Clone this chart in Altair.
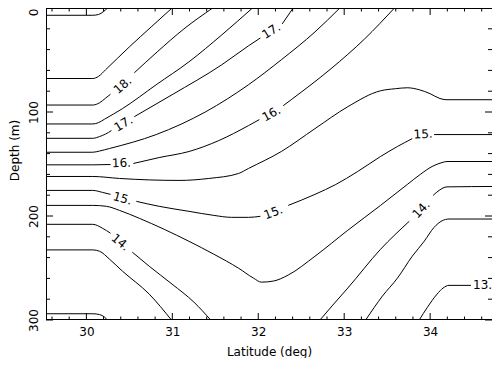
import altair as alt
import pandas as pd

# ---- axis ticks / labels ----
x_labels = [30, 31, 32, 33, 34]
x_minor = [29.6, 29.8, 30.2, 30.4, 30.6, 30.8, 31.2, 31.4, 31.6, 31.8, 32.2, 32.4,
           32.6, 32.8, 33.2, 33.4, 33.6, 33.8, 34.2, 34.4, 34.6]
y_labels = [0, 100, 200, 300]
y_minor = [20, 40, 60, 80, 120, 140, 160, 180, 220, 240, 260, 280]

# ---- contour lines (lat, depth), split where labels interrupt them ----
c190 = [[(29.53, 7.0), (30.074, 7.0), (30.142, 6.2), (30.2, 3.4), (30.246, 0.0)]]
c185 = [[(29.53, 67.8), (30.074, 67.8), (30.142, 65.7), (30.223, 59.4), (30.5, 37.4),
         (30.754, 18.2), (30.997, 0.0)]]
c180 = [[(29.53, 93.3), (30.074, 93.3), (30.154, 91.1), (30.223, 86.7), (30.281, 82.9)],
        [(30.558, 62.3), (30.824, 42.2), (31.135, 20.1), (31.47, 0.0)]]
c175 = [[(29.53, 111.5), (30.074, 111.5), (30.142, 110.2), (30.211, 106.9), (30.419, 96.8),
         (30.812, 73.8), (31.193, 51.8), (31.575, 25.9), (31.933, 0.0)]]
c170 = [[(29.53, 125.3), (30.074, 125.3), (30.154, 123.6), (30.223, 121.2), (30.292, 117.9)],
        [(30.558, 104.5), (30.997, 83.4), (31.575, 54.6), (31.886, 36.4), (32.025, 28.8)],
        [(32.279, 15.3), (32.406, 0.0)]]
c165 = [[(29.53, 138.7), (30.074, 138.7), (30.154, 137.5), (30.269, 135.1), (30.812, 121.7),
         (31.39, 99.7), (31.886, 73.8), (32.268, 49.8), (32.66, 23.0), (32.949, 0.0)]]
c160 = [[(29.53, 150.8), (30.074, 150.8), (30.281, 150.5)],
        [(30.547, 149.5), (30.847, 143.8), (31.193, 138.0), (31.54, 127.5), (31.886, 113.1),
         (32.013, 107.3)],
        [(32.291, 93.9), (32.383, 88.2), (32.845, 58.5), (33.238, 29.7), (33.585, 0.0)]]
c155 = [[(29.53, 162.0), (30.074, 162.0), (30.385, 163.9), (30.731, 165.3), (31.078, 165.8),
         (31.424, 163.9), (31.771, 159.1), (31.886, 154.3), (32.268, 138.0), (32.66, 116.0),
         (33.042, 94.9), (33.423, 79.6), (33.596, 77.6), (33.734, 76.7), (33.873, 78.6),
         (34.0, 82.4), (34.104, 86.7), (34.196, 88.2), (34.762, 88.2)]]
c150 = [[(29.53, 175.4), (30.074, 175.4), (30.188, 177.3), (30.281, 179.2)],
        [(30.581, 185.9), (30.847, 190.7), (31.193, 195.5), (31.482, 199.4), (31.69, 201.3),
         (31.886, 201.3), (32.025, 200.3)],
        [(32.349, 189.8), (32.66, 179.2), (32.902, 169.7), (33.157, 157.2), (33.423, 142.8),
         (33.619, 133.2), (33.792, 125.6)],
        [(34.046, 121.7), (34.762, 121.7)]]
c145 = [[(29.53, 189.8), (30.074, 189.8), (30.234, 190.7), (30.385, 194.6), (30.616, 202.2),
         (30.905, 212.8), (31.193, 224.3), (31.482, 236.7), (31.771, 250.2), (31.944, 259.7),
         (32.037, 263.6), (32.175, 262.6), (32.348, 256.8), (32.66, 238.7), (33.042, 213.7),
         (33.423, 189.8), (33.734, 169.7), (33.884, 160.1), (34.023, 152.4), (34.139, 148.6),
         (34.196, 147.6), (34.762, 147.6)]]
c140 = [[(29.53, 208.0), (30.074, 208.0), (30.188, 211.8), (30.281, 216.6)],
        [(30.535, 234.8), (30.731, 248.3), (30.997, 265.5), (31.251, 282.8), (31.447, 300.0)],
        [(32.718, 300.0), (32.868, 285.6), (33.042, 269.3), (33.423, 232.0), (33.757, 205.1)],
        [(34.035, 180.2), (34.104, 175.4), (34.196, 172.0), (34.762, 171.6)]]
c135 = [[(29.53, 232.6), (30.074, 232.6), (30.154, 233.9), (30.269, 241.5), (30.419, 253.0),
         (30.731, 275.1), (30.99, 300.0)],
        [(33.25, 300.0), (33.445, 277.0), (33.619, 259.8), (33.792, 238.7), (33.931, 224.3),
         (34.046, 210.9), (34.139, 204.6), (34.22, 202.9), (34.762, 202.9)]]
c130 = [[(29.53, 294.0), (30.074, 294.0), (30.154, 294.8), (30.211, 297.2), (30.246, 300.0)],
        [(33.873, 300.0), (33.965, 288.2), (34.081, 275.1), (34.15, 269.3), (34.22, 266.7),
         (34.475, 266.7)]]

levels = {"19.0": c190, "18.5": c185, "18.0": c180, "17.5": c175, "17.0": c170,
          "16.5": c165, "16.0": c160, "15.5": c155, "15.0": c150, "14.5": c145,
          "14.0": c140, "13.5": c135, "13.0": c130}

# ---- contour labels ----
label_text = ["18.", "17.", "17.", "16.", "16.", "15.", "15.", "15.", "14.", "14.", "13."]
label_lat = [30.420, 30.431, 32.152, 30.408, 32.152, 30.420, 32.175, 33.919, 30.396, 33.896, 34.5]
label_depth = [74.3, 111.2, 22.0, 149.0, 101.6, 183.1, 196.5, 121.2, 225.2, 193.6, 266.7]
label_angle = [319, 329, 328, 358, 331, 16, 339, 357, 40, 313, 0]
label_align = ["center"] * 10 + ["left"]

rows = []
for lev, segs in levels.items():
    for k, seg in enumerate(segs):
        for i, (la, de) in enumerate(seg):
            rows.append({"seg": f"{lev}-{k}", "i": i, "lat": la, "depth": de})
lines_df = pd.DataFrame(rows)
labels_df = pd.DataFrame({"t": label_text, "lat": label_lat, "depth": label_depth,
                          "a": label_angle, "al": label_align})

W, H = 446, 312
FONT = "DejaVu Sans"
xs = alt.Scale(domain=[29.53, 34.72], nice=False, zero=False)
ys = alt.Scale(domain=[0, 300], reverse=True, nice=False, zero=False)

x_axis = alt.Axis(values=x_labels, format="d", ticks=False, tickSize=0, domain=False,
                  grid=False, labelFont=FONT, labelFontSize=12, labelColor="black",
                  labelBaseline="alphabetic", labelPadding=15, labelFlush=False,
                  title="Latitude (deg)", titleFont=FONT, titleFontSize=12,
                  titleFontWeight="normal", titleColor="black",
                  titleBaseline="alphabetic", titleY=35.5)
y_axis = alt.Axis(values=y_labels, format="d", ticks=False, tickSize=0, domain=False,
                  grid=False, labelFont=FONT, labelFontSize=12, labelColor="black",
                  labelAngle=270,
                  labelAlign={"condition": {"test": "datum.value == 0", "value": "right"},
                              "value": "center"},
                  labelBaseline="alphabetic",
                  labelPadding=9, labelFlush=False,
                  title="Depth (m)", titleFont=FONT, titleFontSize=12,
                  titleFontWeight="normal", titleColor="black", titleAngle=270,
                  titleAlign="center", titleBaseline="alphabetic", titleX=-27.5, titleY=142)

X = alt.X("lat:Q", scale=xs, axis=x_axis)
Y = alt.Y("depth:Q", scale=ys, axis=y_axis)

lines = alt.Chart(lines_df).mark_line(color="black", strokeWidth=1, clip=True,
                                      interpolate="monotone").encode(
    x=X, y=Y, detail="seg:N", order="i:Q")

texts_c = alt.Chart(labels_df).transform_filter(alt.datum.al == "center").mark_text(
    font=FONT, fontSize=12, color="black", align="center", baseline="middle").encode(
    x=X, y=Y, text="t:N", angle=alt.Angle("a:Q", scale=None))
texts_l = alt.Chart(labels_df).transform_filter(alt.datum.al == "left").mark_text(
    font=FONT, fontSize=12, color="black", align="left", baseline="middle").encode(
    x=X, y=Y, text="t:N")

def xticks(vals, y0, y1):
    return alt.Chart(pd.DataFrame({"lat": vals})).mark_rule(color="black", strokeWidth=1).encode(
        x=X, y=alt.value(y0), y2=alt.value(y1))

def yticks(vals, x0, x1):
    return alt.Chart(pd.DataFrame({"depth": vals})).mark_rule(color="black", strokeWidth=1).encode(
        y=Y, x=alt.value(x0), x2=alt.value(x1))

ticks = [
    xticks(x_labels, H, H - 7), xticks(x_minor, H, H - 3.5),
    xticks(x_labels, 0, 7), xticks(x_minor, 0, 3.5),
    yticks(y_labels, 0, 7), yticks(y_minor, 0, 4),
    yticks(y_labels, W, W - 7), yticks(y_minor, W, W - 4),
]

frame_df = pd.DataFrame({"k": [0]})
frame = [
    alt.Chart(frame_df).mark_rule(color="black", strokeWidth=1).encode(
        x=alt.value(0), x2=alt.value(W), y=alt.value(0.5)),
    alt.Chart(frame_df).mark_rule(color="black", strokeWidth=1).encode(
        x=alt.value(0), x2=alt.value(W), y=alt.value(H - 0.5)),
    alt.Chart(frame_df).mark_rule(color="black", strokeWidth=1).encode(
        x=alt.value(0.5), y=alt.value(0), y2=alt.value(H)),
]

chart = alt.layer(lines, texts_c, texts_l, *ticks, *frame).properties(
    width=W, height=H,
    autosize=alt.AutoSizeParams(type="none"),
    padding={"left": 38, "top": 0, "right": 0, "bottom": 38},
    background="white",
).configure_view(stroke=None)

chart.save("out.html", embed_options={"renderer": "svg", "actions": False})
